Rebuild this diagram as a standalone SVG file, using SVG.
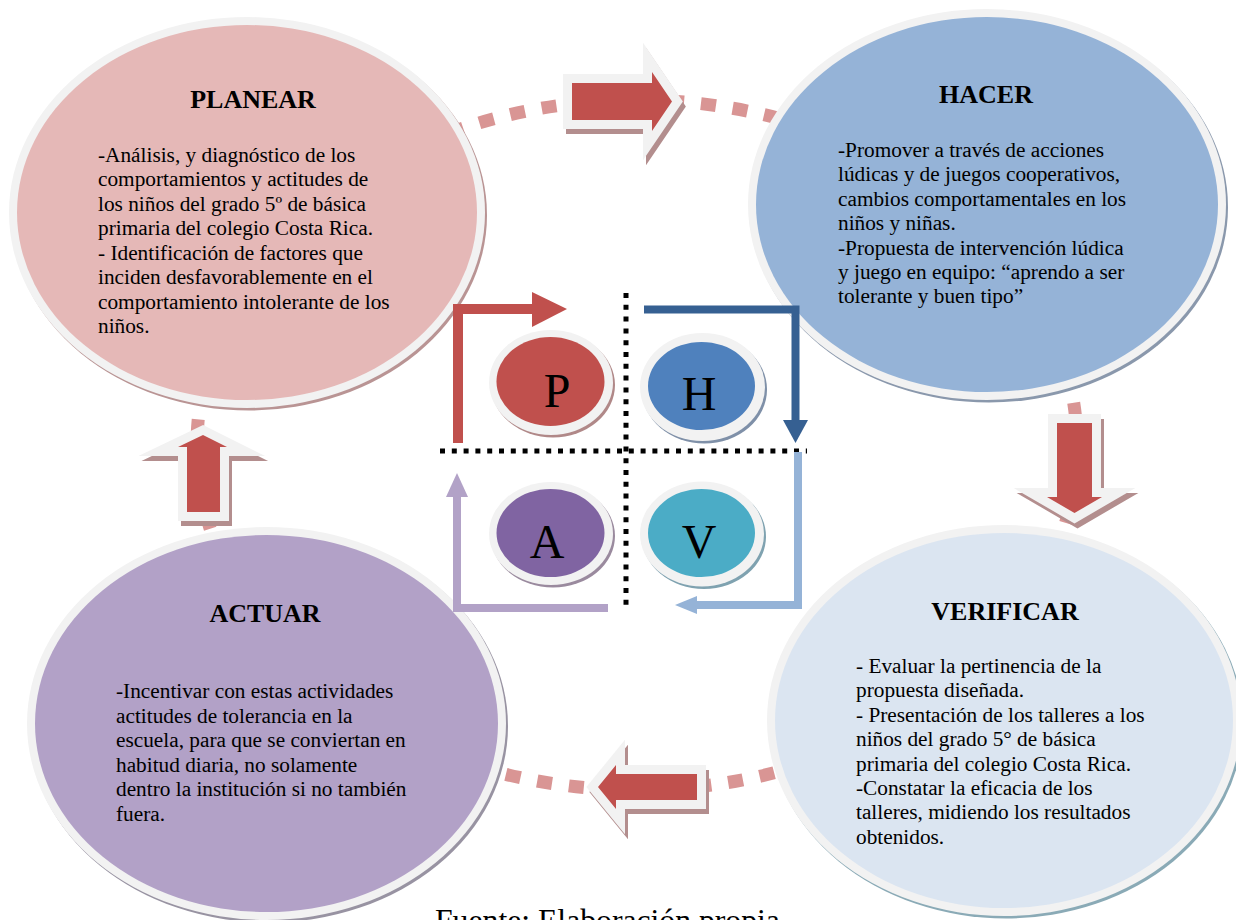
<svg xmlns="http://www.w3.org/2000/svg" width="1236" height="920" viewBox="0 0 1236 920">
<style>
  .body{font-family:"Liberation Serif","Times New Roman",serif;font-size:21.3px;fill:#000}
  .title{font-family:"Liberation Serif","Times New Roman",serif;font-size:26px;font-weight:bold;text-anchor:middle;fill:#000}
  .letter{font-family:"Liberation Serif","Times New Roman",serif;font-size:48px;text-anchor:middle;fill:#000}
  .rim{fill:#f2f2f2}
  .ring{fill:none;stroke:#d99594;stroke-width:13;stroke-dasharray:15 17}
  .bigarrow{fill:#c0504d;stroke:#f2f2f2;stroke-width:18;stroke-linejoin:miter;stroke-miterlimit:10;paint-order:stroke}
  .ashadow{fill:#b38e8e;stroke:#b38e8e;stroke-width:18;stroke-linejoin:miter;stroke-miterlimit:10}
  .dots{fill:none;stroke:#000;stroke-width:5;stroke-dasharray:5 6.8}
</style>
<rect width="1236" height="920" fill="#fff"/>

<!-- dotted cycle ring -->
<g id="ring">
  <ellipse class="ring" cx="637" cy="445" rx="440" ry="345"/>
</g>

<!-- big nodes -->
<g id="planear">
  <ellipse cx="249" cy="215" rx="238" ry="195.5" fill="#b99494"/>
  <ellipse class="rim" cx="247" cy="212.5" rx="238" ry="195.5"/>
  <ellipse cx="247" cy="212.5" rx="230" ry="187.5" fill="#e5b8b7"/>
  <text class="title" x="253" y="108">PLANEAR</text>
  <text class="body" x="98" y="162">
    <tspan x="98">-Análisis, y diagnóstico de los</tspan>
    <tspan x="98" dy="24.45">comportamientos y actitudes de</tspan>
    <tspan x="98" dy="24.45">los niños del grado 5º de básica</tspan>
    <tspan x="98" dy="24.45">primaria del colegio Costa Rica.</tspan>
    <tspan x="98" dy="24.45">- Identificación de factores que</tspan>
    <tspan x="98" dy="24.45">inciden desfavorablemente en el</tspan>
    <tspan x="98" dy="24.45">comportamiento intolerante de los</tspan>
    <tspan x="98" dy="24.45">niños.</tspan>
  </text>
</g>

<g id="hacer">
  <ellipse cx="989" cy="207" rx="239" ry="195.5" fill="#8a98ac"/>
  <ellipse class="rim" cx="987" cy="204.5" rx="239" ry="195.5"/>
  <ellipse cx="987" cy="204.5" rx="231" ry="187.5" fill="#95b3d7"/>
  <text class="title" x="986" y="103">HACER</text>
  <text class="body" x="838" y="157">
    <tspan x="838">-Promover a través de acciones</tspan>
    <tspan x="838" dy="24.4">lúdicas y de juegos cooperativos,</tspan>
    <tspan x="838" dy="24.4">cambios comportamentales en los</tspan>
    <tspan x="838" dy="24.4">niños y niñas.</tspan>
    <tspan x="838" dy="24.4">-Propuesta de intervención lúdica</tspan>
    <tspan x="838" dy="24.4">y juego en equipo: “aprendo a ser</tspan>
    <tspan x="838" dy="24.4">tolerante y buen tipo”</tspan>
  </text>
</g>

<g id="actuar">
  <ellipse cx="268.5" cy="726" rx="239.5" ry="196.5" fill="#9893a2"/>
  <ellipse class="rim" cx="266.5" cy="723.5" rx="239.5" ry="196.5"/>
  <ellipse cx="266.5" cy="723.5" rx="231.5" ry="188.5" fill="#b2a1c7"/>
  <text class="title" x="265" y="622">ACTUAR</text>
  <text class="body" x="116" y="698">
    <tspan x="116">-Incentivar con estas actividades</tspan>
    <tspan x="116" dy="24.6">actitudes de tolerancia en la</tspan>
    <tspan x="116" dy="24.6">escuela, para que se conviertan en</tspan>
    <tspan x="116" dy="24.6">habitud diaria, no solamente</tspan>
    <tspan x="116" dy="24.6">dentro la institución si no también</tspan>
    <tspan x="116" dy="24.6">fuera.</tspan>
  </text>
</g>

<g id="verificar">
  <ellipse cx="1006" cy="723" rx="237" ry="195.5" fill="#8aaab6"/>
  <ellipse class="rim" cx="1004" cy="720.5" rx="237" ry="195.5"/>
  <ellipse cx="1004" cy="720.5" rx="229" ry="187.5" fill="#dbe5f1"/>
  <text class="title" x="1005" y="620">VERIFICAR</text>
  <text class="body" x="856" y="673">
    <tspan x="856">- Evaluar la pertinencia de la</tspan>
    <tspan x="856" dy="24.4">propuesta diseñada.</tspan>
    <tspan x="856" dy="24.4">- Presentación de los talleres a los</tspan>
    <tspan x="856" dy="24.4">niños del grado 5° de básica</tspan>
    <tspan x="856" dy="24.4">primaria del colegio Costa Rica.</tspan>
    <tspan x="856" dy="24.4">-Constatar la eficacia de los</tspan>
    <tspan x="856" dy="24.4">talleres, midiendo los resultados</tspan>
    <tspan x="856" dy="24.4">obtenidos.</tspan>
  </text>
</g>

<!-- connectors -->
<g id="connectors">
  <!-- block arrows between stages -->
  <g transform="translate(3,5)">
    <polygon class="ashadow" points="572,83 652,83 652,72 672,101.5 652,131 652,120 572,120"/>
    <polygon class="ashadow" points="1057,423 1092,423 1092,497 1102,497 1074.5,513 1047,497 1057,497"/>
    <polygon class="ashadow" points="697,774 616,774 616,765 598,787 616,809 616,800 697,800"/>
    <polygon class="ashadow" points="187,512 187,447 178,447 203,435 227,447 220,447 220,512"/>
  </g>
  <polygon class="bigarrow" points="572,83 652,83 652,72 672,101.5 652,131 652,120 572,120"/>
  <polygon class="bigarrow" points="1057,423 1092,423 1092,497 1102,497 1074.5,513 1047,497 1057,497"/>
  <polygon class="bigarrow" points="697,774 616,774 616,765 598,787 616,809 616,800 697,800"/>
  <polygon class="bigarrow" points="187,512 187,447 178,447 203,435 227,447 220,447 220,512"/>

  <!-- centre quadrant dotted axes -->
  <path class="dots" d="M440,451 H807"/>
  <path class="dots" d="M626,293 V610"/>

  <!-- centre cycle arrows -->
  <path d="M458,443 V309 H534" fill="none" stroke="#c0504d" stroke-width="10"/>
  <polygon points="532,292 567,309 532,327" fill="#c0504d"/>
  <path d="M644,309.5 H795.5 V421" fill="none" stroke="#366092" stroke-width="8"/>
  <polygon points="783,420 808,420 795.5,443" fill="#366092"/>
  <path d="M798,452 V605 H696" fill="none" stroke="#95b3d7" stroke-width="8"/>
  <polygon points="697,596 675,605 697,614" fill="#95b3d7"/>
  <path d="M608,608 H457 V496" fill="none" stroke="#b2a2c7" stroke-width="8"/>
  <polygon points="446,497 468,497 457,473" fill="#b2a2c7"/>
</g>

<!-- small PHVA nodes -->
<g id="p">
  <ellipse cx="553" cy="385" rx="62" ry="52.5" fill="#b08888"/>
  <ellipse class="rim" cx="551" cy="382.5" rx="62" ry="52.5"/>
  <ellipse cx="550.5" cy="381.5" rx="54" ry="44.5" fill="#c0504d"/>
  <text class="letter" x="557" y="407">P</text>
</g>
<g id="h">
  <ellipse cx="704.5" cy="389.5" rx="62.5" ry="54" fill="#7f90a8"/>
  <ellipse class="rim" cx="702.5" cy="387" rx="62.5" ry="54"/>
  <ellipse cx="701.5" cy="386" rx="53.5" ry="44" fill="#4f81bd"/>
  <text class="letter" x="699" y="410">H</text>
</g>
<g id="a">
  <ellipse cx="553" cy="536" rx="62" ry="51.5" fill="#9a8a9e"/>
  <ellipse class="rim" cx="551" cy="533.5" rx="62" ry="51.5"/>
  <ellipse cx="550.5" cy="533" rx="54" ry="44" fill="#8064a2"/>
  <text class="letter" x="547" y="558">A</text>
</g>
<g id="v">
  <ellipse cx="704" cy="536.5" rx="62" ry="52.5" fill="#7fa2b0"/>
  <ellipse class="rim" cx="702" cy="534" rx="62" ry="52.5"/>
  <ellipse cx="701.5" cy="533" rx="53.5" ry="44" fill="#4bacc6"/>
  <text class="letter" x="699" y="558">V</text>
</g>

<text x="435" y="931" font-family="Liberation Serif, Times New Roman, serif" font-size="31.7" fill="#000">Fuente: Elaboración propia</text>
</svg>
